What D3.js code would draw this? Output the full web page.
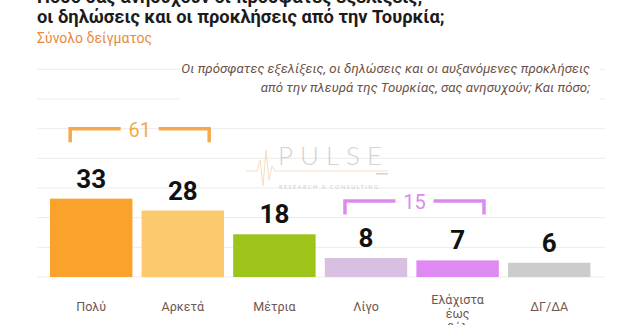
<!DOCTYPE html>
<html>
<head>
<meta charset="utf-8">
<script src="https://cdn.jsdelivr.net/npm/d3@7"></script>
<style>
  html, body { margin: 0; padding: 0; background: #ffffff; }
  svg { display: block; }
</style>
</head>
<body>
<svg id="chart" width="638" height="325"></svg>
<script>
// Survey answers: "how worried are you" scale
const categories = ["Πολύ", "Αρκετά", "Μέτρια", "Λίγο", "Ελάχιστα έως καθόλου", "ΔΓ/ΔΑ"];
const values = [33, 28, 18, 8, 7, 6];
const barColors = ["#F9A22C", "#FCC96F", "#9DC41A", "#D9C0E3", "#DE8AF2", "#CCCCCC"];

// Grouped totals shown with brackets above the bars
const groupMembers = [[0, 1], [3, 4]];
const groupColors = ["#F5A94A", "#D98CEB"];
const groupLevels = [62.5, 32];

const gridTicks = [0, 12.5, 25, 37.5, 50, 62.5, 75, 87.5];

const titleLines = [
  "Πόσο σας ανησυχούν οι πρόσφατες εξελίξεις,",
  "οι δηλώσεις και οι προκλήσεις από την Τουρκία;"
];
const subtitle = "Σύνολο δείγματος";
const noteLines = [
  "Οι πρόσφατες εξελίξεις, οι δηλώσεις και οι αυξανόμενες προκλήσεις",
  "από την πλευρά της Τουρκίας, σας ανησυχούν; Και πόσο;"
];

const svg = d3.select("#chart");
const FONT = "Roboto, 'Liberation Sans', sans-serif";

const x = d3.scaleBand()
  .domain(d3.range(categories.length))
  .range([45.4, 595])
  .paddingInner(0.1)
  .paddingOuter(0.05);

const y = d3.scaleLinear().domain([0, 100]).range([277, 39.6]);

// Horizontal grid
svg.append("g")
  .attr("class", "grid")
  .selectAll("line")
  .data(gridTicks)
  .join("line")
  .attr("x1", 37).attr("x2", 605)
  .attr("y1", d => y(d)).attr("y2", d => y(d))
  .attr("stroke", "#ececec")
  .attr("stroke-width", 1);

// Title block: second line spans the heading width
const title = svg.append("text")
  .attr("x", 37)
  .attr("font-family", FONT)
  .attr("font-weight", 700)
  .attr("font-size", 18)
  .attr("fill", "#1c1c1c");
title.selectAll("tspan")
  .data(titleLines)
  .join("tspan")
  .attr("x", 37)
  .attr("y", (d, i) => 3 + i * 20)
  .text(d => d);
{
  const second = title.selectAll("tspan").nodes()[1];
  const len = second.getComputedTextLength();
  if (len > 0) title.attr("font-size", 18 * 408 / len);
}

svg.append("text")
  .attr("x", 37).attr("y", 43)
  .attr("font-family", FONT)
  .attr("font-size", 14)
  .attr("fill", "#E98A3E")
  .text(subtitle);

// Question note (right aligned, white backing over the grid)
svg.append("rect")
  .attr("x", 180).attr("y", 58)
  .attr("width", 420).attr("height", 44)
  .attr("fill", "#ffffff");

svg.append("g")
  .selectAll("text")
  .data(noteLines)
  .join("text")
  .attr("x", 590)
  .attr("y", (d, i) => 73 + i * 19)
  .attr("text-anchor", "end")
  .attr("font-family", FONT)
  .attr("font-style", "italic")
  .attr("font-size", 13.3)
  .attr("fill", "#6a5249")
  .text(d => d);

// Watermark logo
const logo = svg.append("g").attr("class", "logo").attr("opacity", 0.5);
logo.append("path")
  .attr("d", "M246,171 L257,171 L260,160 L263,186 L266,150 L269,180 L272,166 L275,171 L388,171")
  .attr("fill", "none")
  .attr("stroke", "#F2BE88")
  .attr("stroke-width", 1);
logo.append("text")
  .attr("x", 278).attr("y", 165)
  .attr("font-family", "Lato, Roboto, sans-serif")
  .attr("font-weight", 300)
  .attr("font-size", 26)
  .attr("letter-spacing", 7)
  .attr("fill", "#a8a8a8")
  .text("PULSE");
logo.append("rect")
  .attr("x", 376).attr("y", 173)
  .attr("width", 12).attr("height", 1.5)
  .attr("fill", "#a8a8a8");
logo.append("text")
  .attr("x", 279).attr("y", 189)
  .attr("font-family", "Lato, Roboto, sans-serif")
  .attr("font-size", 5.5)
  .attr("letter-spacing", 1.5)
  .attr("fill", "#a0a0a0")
  .text("RESEARCH & CONSULTING");

// Bars
svg.append("g")
  .selectAll("rect")
  .data(values)
  .join("rect")
  .attr("x", (d, i) => x(i))
  .attr("y", d => y(d))
  .attr("width", x.bandwidth())
  .attr("height", d => y(0) - y(d))
  .attr("fill", (d, i) => barColors[i]);

// Value labels
svg.append("g")
  .selectAll("text")
  .data(values)
  .join("text")
  .attr("x", (d, i) => x(i) + x.bandwidth() / 2)
  .attr("y", d => y(d) - 11)
  .attr("text-anchor", "middle")
  .attr("font-family", FONT)
  .attr("font-weight", 700)
  .attr("font-size", 26)
  .attr("fill", "#111111")
  .text(d => d);

// Category labels (multi-word answers wrap onto separate lines)
const cat = svg.append("g")
  .selectAll("text")
  .data(categories)
  .join("text")
  .attr("text-anchor", "middle")
  .attr("font-family", FONT)
  .attr("font-size", 12.5)
  .attr("fill", "#6d5650");
cat.each(function (d, i) {
  const words = d.split(" ");
  const cx = x(i) + x.bandwidth() / 2;
  const y0 = words.length > 1 ? 304 : 311;
  d3.select(this).selectAll("tspan")
    .data(words)
    .join("tspan")
    .attr("x", cx)
    .attr("y", (w, k) => y0 + k * 14)
    .text(w => w);
});

// Group brackets with summed totals
const brackets = svg.append("g");
groupMembers.forEach((members, gi) => {
  const a = members[0], b = members[members.length - 1];
  const left = x(a) + x.bandwidth() * 0.245;
  const right = x(b) + x.bandwidth() * 0.82;
  const mid = (left + right) / 2;
  const yc = y(groupLevels[gi]);
  const drop = 13.5;
  const gap = 19;
  const color = groupColors[gi];
  const total = d3.sum(members, m => values[m]);
  brackets.append("path")
    .attr("d", `M${left},${yc + drop}V${yc}H${mid - gap}`)
    .attr("fill", "none").attr("stroke", color).attr("stroke-width", 3.5);
  brackets.append("path")
    .attr("d", `M${mid + gap},${yc}H${right}V${yc + drop}`)
    .attr("fill", "none").attr("stroke", color).attr("stroke-width", 3.5);
  brackets.append("text")
    .attr("x", mid).attr("y", yc + 8)
    .attr("text-anchor", "middle")
    .attr("font-family", FONT)
    .attr("font-size", 20)
    .attr("fill", color)
    .text(total);
});
</script>
</body>
</html>
